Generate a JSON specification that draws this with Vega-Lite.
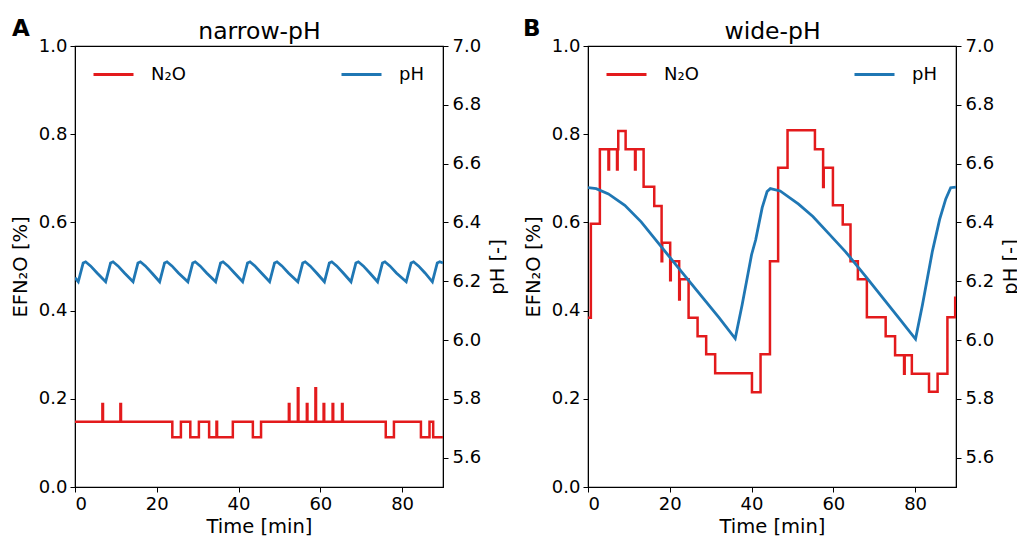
{
 "$schema": "https://vega.github.io/schema/vega-lite/v6.json",
 "padding": {"left": 9, "top": 17, "right": 0, "bottom": 0},
 "autosize": {"type": "pad"},
 "background": "white",
 "spacing": 14,
 "config": {
  "font": "DejaVu Sans",
  "view": {"stroke": "#000", "strokeWidth": 1.2},
  "axis": {"labelFontSize": 18, "titleFontSize": 19.5, "labelColor": "#000", "titleColor": "#000", "tickColor": "#000", "domainColor": "#000", "grid": false, "tickSize": 5, "labelPadding": 3, "titleFontWeight": "normal", "labelFont": "DejaVu Sans", "titleFont": "DejaVu Sans"},
  "legend": {"symbolType": "stroke", "symbolSize": 1600, "symbolStrokeWidth": 2.8, "labelFontSize": 18, "labelOffset": 16, "padding": 0, "labelColor": "#000", "labelFont": "DejaVu Sans"}
 },
 "datasets": {
  "nn": [
   {"t":0,"ef":0.148},{"t":6.7,"ef":0.188},{"t":6.85,"ef":0.148},{"t":11.1,"ef":0.188},{"t":11.25,"ef":0.148},
   {"t":23.8,"ef":0.113},{"t":25.9,"ef":0.148},{"t":28.2,"ef":0.113},{"t":30.3,"ef":0.148},{"t":32.8,"ef":0.113},
   {"t":34.6,"ef":0.148},{"t":34.75,"ef":0.113},{"t":38.6,"ef":0.148},{"t":43.5,"ef":0.113},{"t":45.5,"ef":0.148},
   {"t":52.3,"ef":0.188},{"t":52.45,"ef":0.148},{"t":54.5,"ef":0.224},{"t":54.65,"ef":0.148},{"t":56.7,"ef":0.188},{"t":56.85,"ef":0.148},
   {"t":58.8,"ef":0.224},{"t":58.95,"ef":0.148},{"t":60.8,"ef":0.188},{"t":60.95,"ef":0.148},{"t":63.0,"ef":0.188},{"t":63.15,"ef":0.148},
   {"t":65.3,"ef":0.188},{"t":65.45,"ef":0.148},{"t":76.0,"ef":0.113},{"t":78.0,"ef":0.148},{"t":84.6,"ef":0.113},{"t":86.7,"ef":0.148},
   {"t":87.6,"ef":0.113},{"t":90,"ef":0.113}
  ],
  "np": [
   {"t":0,"ph":6.212},{"t":0.8,"ph":6.198},{"t":2.0,"ph":6.262},{"t":2.6,"ph":6.266},{"t":3.8,"ph":6.252},{"t":5.4,"ph":6.228},
   {"t":7.5,"ph":6.198},{"t":8.7,"ph":6.262},{"t":9.3,"ph":6.266},{"t":10.5,"ph":6.252},{"t":12.1,"ph":6.228},
   {"t":14.2,"ph":6.198},{"t":15.4,"ph":6.262},{"t":16.0,"ph":6.266},{"t":17.2,"ph":6.252},{"t":18.8,"ph":6.228},
   {"t":20.7,"ph":6.198},{"t":21.9,"ph":6.262},{"t":22.5,"ph":6.266},{"t":23.7,"ph":6.252},{"t":25.3,"ph":6.228},
   {"t":27.6,"ph":6.198},{"t":28.8,"ph":6.262},{"t":29.4,"ph":6.266},{"t":30.6,"ph":6.252},{"t":32.2,"ph":6.228},
   {"t":34.4,"ph":6.198},{"t":35.6,"ph":6.262},{"t":36.2,"ph":6.266},{"t":37.4,"ph":6.252},{"t":39.0,"ph":6.228},
   {"t":41.0,"ph":6.198},{"t":42.2,"ph":6.262},{"t":42.8,"ph":6.266},{"t":44.0,"ph":6.252},{"t":45.6,"ph":6.228},
   {"t":47.6,"ph":6.198},{"t":48.8,"ph":6.262},{"t":49.4,"ph":6.266},{"t":50.6,"ph":6.252},{"t":52.2,"ph":6.228},
   {"t":54.5,"ph":6.198},{"t":55.7,"ph":6.262},{"t":56.3,"ph":6.266},{"t":57.5,"ph":6.252},{"t":59.1,"ph":6.228},
   {"t":61.0,"ph":6.198},{"t":62.2,"ph":6.262},{"t":62.8,"ph":6.266},{"t":64.0,"ph":6.252},{"t":65.6,"ph":6.228},
   {"t":67.5,"ph":6.198},{"t":68.7,"ph":6.262},{"t":69.3,"ph":6.266},{"t":70.5,"ph":6.252},{"t":72.1,"ph":6.228},
   {"t":74.0,"ph":6.198},{"t":75.2,"ph":6.262},{"t":75.8,"ph":6.266},{"t":77.0,"ph":6.252},{"t":78.6,"ph":6.228},
   {"t":81.0,"ph":6.198},{"t":82.2,"ph":6.262},{"t":82.8,"ph":6.266},{"t":84.0,"ph":6.252},{"t":85.6,"ph":6.228},
   {"t":87.4,"ph":6.198},{"t":88.6,"ph":6.262},{"t":89.2,"ph":6.266},{"t":90,"ph":6.262}
  ],
  "wn": [
   {"t":0,"ef":0.384},{"t":0.7,"ef":0.597},{"t":2.9,"ef":0.766},{"t":5.0,"ef":0.72},{"t":5.15,"ef":0.766},{"t":7.1,"ef":0.72},{"t":7.25,"ef":0.766},
   {"t":7.4,"ef":0.807},{"t":9.2,"ef":0.766},{"t":11.5,"ef":0.72},{"t":11.65,"ef":0.766},{"t":13.6,"ef":0.681},{"t":16.2,"ef":0.637},
   {"t":18.0,"ef":0.512},{"t":18.15,"ef":0.554},{"t":20.1,"ef":0.469},{"t":20.25,"ef":0.512},{"t":22.3,"ef":0.425},{"t":22.45,"ef":0.471},
   {"t":24.6,"ef":0.384},{"t":26.8,"ef":0.342},{"t":28.9,"ef":0.301},{"t":31.1,"ef":0.258},{"t":40.1,"ef":0.215},{"t":42.2,"ef":0.301},
   {"t":44.5,"ef":0.512},{"t":46.5,"ef":0.724},{"t":48.8,"ef":0.809},{"t":55.5,"ef":0.766},{"t":57.5,"ef":0.68},{"t":57.65,"ef":0.724},
   {"t":59.9,"ef":0.639},{"t":62.3,"ef":0.595},{"t":64.2,"ef":0.512},{"t":66.0,"ef":0.471},{"t":68.2,"ef":0.385},{"t":72.8,"ef":0.342},
   {"t":75.1,"ef":0.299},{"t":77.3,"ef":0.257},{"t":77.45,"ef":0.299},{"t":79.2,"ef":0.257},{"t":83.4,"ef":0.216},{"t":85.5,"ef":0.257},
   {"t":87.9,"ef":0.385},{"t":89.8,"ef":0.429},{"t":90,"ef":0.429}
  ],
  "wp": [
   {"t":0,"ph":6.518},{"t":2,"ph":6.515},{"t":5,"ph":6.497},{"t":9,"ph":6.458},{"t":13,"ph":6.402},{"t":18,"ph":6.316},{"t":23,"ph":6.23},
   {"t":28,"ph":6.145},{"t":32,"ph":6.077},{"t":36,"ph":6.005},{"t":37.7,"ph":6.12},{"t":40,"ph":6.29},{"t":41,"ph":6.34},{"t":42.6,"ph":6.45},
   {"t":43.8,"ph":6.505},{"t":44.6,"ph":6.515},{"t":47,"ph":6.507},{"t":51.5,"ph":6.462},{"t":55,"ph":6.42},{"t":59,"ph":6.36},{"t":63,"ph":6.30},
   {"t":68,"ph":6.215},{"t":72,"ph":6.145},{"t":76,"ph":6.075},{"t":80.1,"ph":6.003},{"t":81.8,"ph":6.12},{"t":84.2,"ph":6.30},{"t":86,"ph":6.41},
   {"t":87.5,"ph":6.48},{"t":88.7,"ph":6.518},{"t":90,"ph":6.52}
  ]
 },
 "hconcat": [
  {
   "width": 368, "height": 441,
   "title": {"text": "A", "anchor": "start", "frame": "group", "fontSize": 23, "fontWeight": "bold", "dx": -63, "dy": 26, "color": "#000"},
   "layer": [
    {
     "data": {"name": "nn"},
     "mark": {"type": "line", "interpolate": "step-after", "strokeWidth": 2.5, "clip": true},
     "encoding": {
      "x": {"field": "t", "type": "quantitative", "scale": {"domain": [0, 90], "nice": false, "zero": false}, "axis": {"orient": "bottom", "title": "Time [min]", "values": [0, 20, 40, 60, 80], "titlePadding": 4}},
      "y": {"field": "ef", "type": "quantitative", "scale": {"domain": [0, 1], "nice": false}, "axis": {"orient": "left", "title": "EFN₂O [%]", "values": [0, 0.2, 0.4, 0.6, 0.8, 1.0], "format": ".1f", "titlePadding": 8}},
      "color": {"datum": "N₂O", "type": "nominal", "scale": {"range": ["#e31a1c"]}, "legend": {"orient": "none", "legendX": 17, "legendY": 7, "title": null}}
     }
    },
    {
     "data": {"name": "np"},
     "mark": {"type": "line", "strokeWidth": 2.8, "clip": true},
     "encoding": {
      "x": {"field": "t", "type": "quantitative", "axis": {"orient": "top", "title": "narrow-pH", "labels": false, "ticks": false, "domain": false, "titleFontSize": 23.5, "titlePadding": 3}},
      "y": {"field": "ph", "type": "quantitative", "scale": {"domain": [5.5, 7.0], "nice": false, "zero": false}, "axis": {"orient": "right", "title": "pH [-]", "values": [5.6, 5.8, 6.0, 6.2, 6.4, 6.6, 6.8, 7.0], "format": ".1f", "titleAngle": 270, "titleBaseline": "top", "titlePadding": 8, "labelPadding": 4}},
      "color": {"datum": "pH", "type": "nominal", "scale": {"range": ["#1f77b4"]}, "legend": {"orient": "none", "legendX": 265, "legendY": 7, "title": null}}
     }
    }
   ],
   "resolve": {"scale": {"y": "independent", "color": "independent"}, "axis": {"x": "independent"}}
  },
  {
   "width": 368, "height": 441,
   "title": {"text": "B", "anchor": "start", "frame": "group", "fontSize": 23, "fontWeight": "bold", "dx": -65, "dy": 26, "color": "#000"},
   "layer": [
    {
     "data": {"name": "wn"},
     "mark": {"type": "line", "interpolate": "step-after", "strokeWidth": 2.5, "clip": true},
     "encoding": {
      "x": {"field": "t", "type": "quantitative", "scale": {"domain": [0, 90], "nice": false, "zero": false}, "axis": {"orient": "bottom", "title": "Time [min]", "values": [0, 20, 40, 60, 80], "titlePadding": 4}},
      "y": {"field": "ef", "type": "quantitative", "scale": {"domain": [0, 1], "nice": false}, "axis": {"orient": "left", "title": "EFN₂O [%]", "values": [0, 0.2, 0.4, 0.6, 0.8, 1.0], "format": ".1f", "titlePadding": 8}},
      "color": {"datum": "N₂O", "type": "nominal", "scale": {"range": ["#e31a1c"]}, "legend": {"orient": "none", "legendX": 17, "legendY": 7, "title": null}}
     }
    },
    {
     "data": {"name": "wp"},
     "mark": {"type": "line", "strokeWidth": 2.8, "clip": true},
     "encoding": {
      "x": {"field": "t", "type": "quantitative", "axis": {"orient": "top", "title": "wide-pH", "labels": false, "ticks": false, "domain": false, "titleFontSize": 23.5, "titlePadding": 3}},
      "y": {"field": "ph", "type": "quantitative", "scale": {"domain": [5.5, 7.0], "nice": false, "zero": false}, "axis": {"orient": "right", "title": "pH [-]", "values": [5.6, 5.8, 6.0, 6.2, 6.4, 6.6, 6.8, 7.0], "format": ".1f", "titleAngle": 270, "titleBaseline": "top", "titlePadding": 8, "labelPadding": 4}},
      "color": {"datum": "pH", "type": "nominal", "scale": {"range": ["#1f77b4"]}, "legend": {"orient": "none", "legendX": 265, "legendY": 7, "title": null}}
     }
    }
   ],
   "resolve": {"scale": {"y": "independent", "color": "independent"}, "axis": {"x": "independent"}}
  }
 ]
}
